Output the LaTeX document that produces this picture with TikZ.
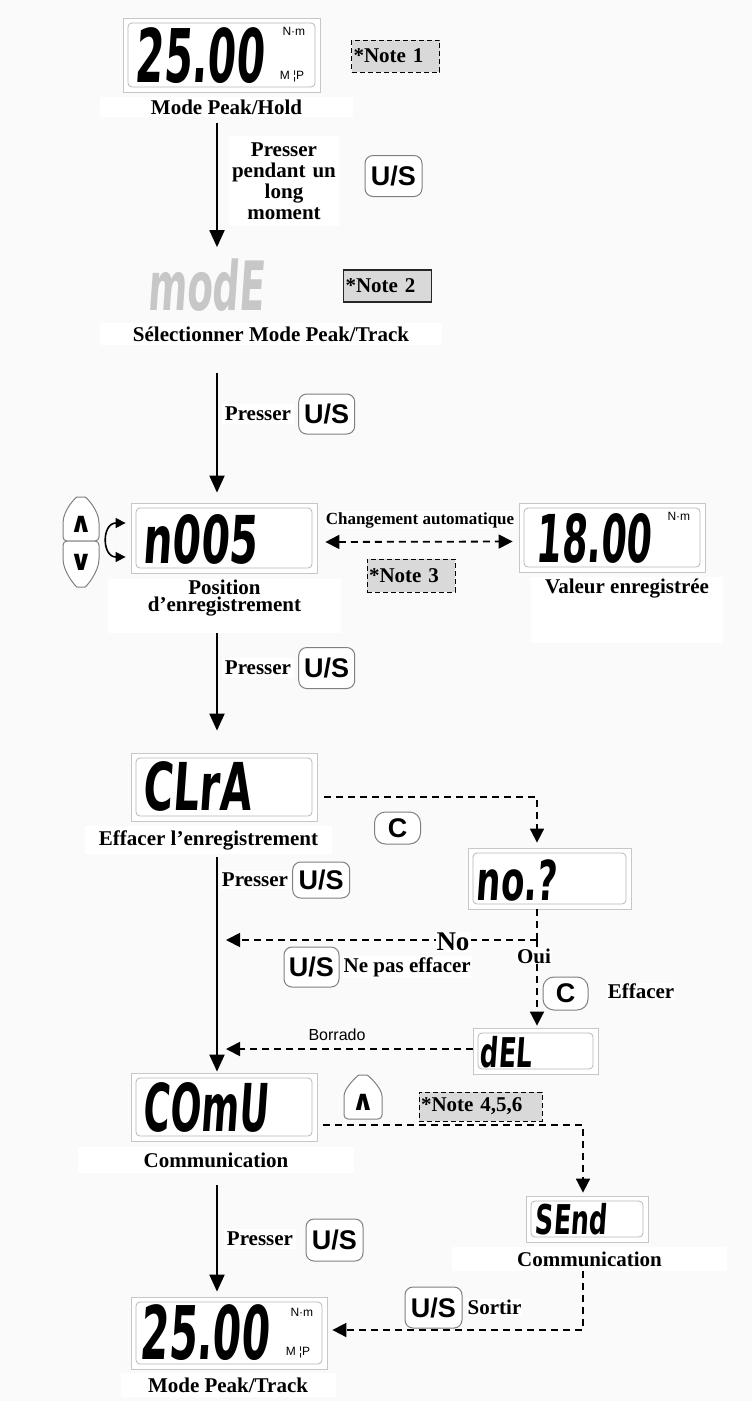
\documentclass[tikz,border=0pt]{standalone}
\usepackage{fontspec}
\setmainfont{Liberation Serif}
\newfontfamily\arialfont{Liberation Sans}
\newfontfamily\symbfont{DejaVu Sans}
\newfontfamily\lcdfont[FakeStretch=0.62,FakeSlant=0.07]{DejaVu Sans Bold}
\newfontfamily\lcdnarrow[FakeStretch=0.55,FakeSlant=0.07]{DejaVu Sans Bold}
\usetikzlibrary{arrows.meta,calc,positioning}
\definecolor{bgcol}{RGB}{250,250,250}
\definecolor{notegray}{RGB}{217,217,217}

\begin{document}
\begin{tikzpicture}[x=1pt, y=-1pt,
    lcd/.style={draw=black!22, fill=white, line width=0.8pt, inner sep=0pt,
      path picture={\draw[black!28, line width=0.8pt, rounded corners=4pt]
        ([shift={(5pt,-5pt)}]path picture bounding box.north west) rectangle
        ([shift={(-5pt,5pt)}]path picture bounding box.south east);}},
    lcdtxt/.style={anchor=base west, inner sep=0pt},
    unit/.style={font=\arialfont\fontsize{12}{12}\selectfont, inner sep=0pt},
    lbl/.style={fill=white, inner sep=1pt, align=center, font=\bfseries\fontsize{21}{18}\selectfont},
    btn/.style={draw=black!50, fill=white, rounded corners=8pt, line width=1pt,
      minimum width=57pt, minimum height=41pt, inner sep=0pt,
      font=\arialfont\bfseries\fontsize{27}{27}\selectfont},
    cbtn/.style={btn, minimum width=46pt, minimum height=32pt, rounded corners=11pt},
    keyline/.style={draw=black!50, fill=white, line width=1pt},
    chevron/.style={font=\symbfont\bfseries\fontsize{28}{28}\selectfont, inner sep=0pt},
    note/.style={draw=black, fill=notegray, line width=1pt, dash pattern=on 5pt off 3pt,
      inner sep=2pt, align=left, font=\bfseries\fontsize{21}{21}\selectfont},
    flow/.style={line width=2pt, -{Triangle[length=17pt,width=15pt]}},
    dflow/.style={line width=1.8pt, dash pattern=on 7pt off 5pt},
    darr/.style={dflow, -{Triangle[length=14pt,width=14pt]}}
  ]
  \fill[bgcol] (0,0) rectangle (752,1401);
  \useasboundingbox (0,0) rectangle (752,1401);
  \coordinate (spine) at (217,0);

  % Peak/Hold
  \node[lcd, minimum width=197pt, minimum height=74pt] (hold) at (221.5,55) {};
  \node[lcdtxt, font=\lcdnarrow\fontsize{74}{74}\selectfont] (holdval) at ([shift={(12pt,10pt)}]hold.south west) {25.00};
  \node[unit, anchor=north east] (holdnm) at ([shift={(-15pt,-9pt)}]hold.north east) {N·m};
  \node[unit, anchor=south east] (holdmp) at ([shift={(-16pt,10pt)}]hold.south east) {M ¦P};
  \node[note, text width=84pt, minimum height=32pt] (note1) at (395.5,56) {*Note 1};
  \node[lbl, minimum width=253pt, minimum height=20pt] (lblhold) at (226.5,107) {Mode Peak/Hold};

  \node[lbl, font=\bfseries\fontsize{21}{21}\selectfont, text width=108pt, minimum height=90pt] (longpress) at (284,181) {Presser\\pendant un\\long\\moment};
  \node[btn] (us1) at (393.5,176) {U/S};

  % mode
  \node[lcdtxt, text=black!22, font=\lcdnarrow\fontsize{68}{68}\selectfont] (modetxt) at (147,310) {modE};
  \node[note, solid, draw=black!85, line width=1.5pt, text width=84pt, minimum height=32pt] (note2) at (387.5,286) {*Note 2};
  \node[lbl, minimum width=342pt, minimum height=22pt] (lblsel) at (271,334) {Sélectionner Mode Peak/Track};
  \draw[flow, shorten <=6pt, shorten >=11pt] (lblhold.south -| spine) -- (modetxt.north -| spine);

  \node[lbl, inner sep=3pt] (press2) at (258,414) {Presser};
  \node[btn, minimum width=56pt, minimum height=40pt, right=4pt of press2] (us2) {U/S};

  % record position
  \node[lcd, minimum width=186pt, minimum height=70pt] (n005) at (224,538) {};
  \node[lcdtxt, font=\lcdfont\fontsize{66}{66}\selectfont] (n005val) at ([shift={(12pt,10pt)}]n005.south west) {n005};
  \draw[flow, shorten <=28pt, shorten >=10pt] (lblsel.south -| spine) -- (n005.north -| spine);

  \draw[keyline, rounded corners=4pt] (63,541) -- (63,527) .. controls (63,510) and (76,497) .. (81,497) .. controls (86,497) and (99,510) .. (99,527) -- (99,541) -- cycle;
  \draw[keyline, rounded corners=4pt] (63,541) -- (63,555) .. controls (63,572) and (76,587) .. (81,587) .. controls (86,587) and (99,572) .. (99,555) -- (99,541) -- cycle;
  \node[chevron] (upkey) at (81,524) {∧};
  \node[chevron] (downkey) at (81,562) {∨};
  \draw[line width=1.6pt, {Triangle[length=10pt,width=10pt]}-{Triangle[length=10pt,width=10pt]}]
    ([shift={(-5pt,15pt)}]n005.west) .. controls +(-24pt,0pt) and +(-24pt,0pt) .. ([shift={(-5pt,-19pt)}]n005.west);

  \node[lbl, font=\bfseries\fontsize{17}{17}\selectfont] (autolbl) at (420,520) {Changement automatique};
  \node[lcd, minimum width=186pt, minimum height=69pt] (rec) at (612,537.5) {};
  \node[lcdtxt, font=\lcdnarrow\fontsize{66}{66}\selectfont] (recval) at ([shift={(17pt,10pt)}]rec.south west) {18.00};
  \node[unit, anchor=north east] (recnm) at ([shift={(-15pt,-9pt)}]rec.north east) {N·m};
  \draw[dflow, {Triangle[length=14pt,width=14pt]}-{Triangle[length=14pt,width=14pt]}, shorten <=8pt, shorten >=6pt]
    ([yshift=-4pt]n005.east) -- ([yshift=-4pt]rec.west);
  \node[note, text width=84pt, minimum height=33pt] (note3) at (411,575.5) {*Note 3};

  \node[lbl, minimum width=233pt, minimum height=54pt] (posbox) at (224.5,606) {};
  \node[lbl, font=\bfseries\fontsize{21}{17}\selectfont, anchor=north] (lblpos) at (posbox.north) {Position\\d’enregistrement};
  \node[lbl, minimum width=192pt, minimum height=66pt] (valbox) at (627,610) {};
  \node[lbl, anchor=north] (lblval) at ([yshift=-1pt]valbox.north) {Valeur enregistrée};

  % clear
  \node[lcd, minimum width=186pt, minimum height=68pt] (clra) at (224,787) {};
  \node[lcdtxt, font=\lcdfont\fontsize{66}{66}\selectfont] (clraval) at ([shift={(12pt,11pt)}]clra.south west) {CLrA};
  \draw[flow, shorten >=22pt] (posbox.south -| spine) -- (clra.north -| spine);
  \node[lbl, inner sep=3pt] (press3) at (258,668) {Presser};
  \node[btn, minimum width=56pt, right=4pt of press3] (us3) {U/S};
  \node[lbl, minimum width=247pt, minimum height=28pt] (lbleff) at (208.5,840) {Effacer l’enregistrement};

  \node[lcd, minimum width=163pt, minimum height=61pt] (nodisp) at (549.5,878.5) {};
  \node[lcdtxt, font=\lcdfont\fontsize{55}{55}\selectfont] (noval) at ([shift={(8pt,9pt)}]nodisp.south west) {no.?};
  \draw[darr, shorten <=7pt, shorten >=5pt] ([yshift=-10pt]clra.east) -| ([xshift=-12.5pt]nodisp.north);
  \node[cbtn] (c1) at (397.5,828) {C};

  \node[lcd, minimum width=186pt, minimum height=68pt] (comu) at (224,1107) {};
  \node[lcdtxt, font=\lcdnarrow\fontsize{66}{66}\selectfont] (comuval) at ([shift={(12pt,10pt)}]comu.south west) {COmU};
  \draw[flow, shorten <=3pt, shorten >=1pt] (lbleff.south -| spine) -- (comu.north -| spine);
  \node[lbl, inner sep=2pt] (press4) at (255,880) {Presser};
  \node[btn, minimum height=36pt, right=2pt of press4] (us4) {U/S};

  \node[lcd, minimum width=125pt, minimum height=46pt] (del) at (535.5,1051) {};
  \node[lcdtxt, font=\lcdfont\fontsize{41}{41}\selectfont] (delval) at ([shift={(7pt,7pt)}]del.south west) {dEL};

  \coordinate (nojoin) at (537,940);
  \draw[dflow] ([xshift=-12.5pt]nodisp.south) -- (nojoin);
  \draw[darr, shorten >=2pt] (nojoin) -- (del.north -| nojoin);
  \draw[darr, shorten >=9pt] (nojoin) -- (nojoin -| spine);
  \node[fill=white, inner sep=1pt, font=\bfseries\fontsize{27}{27}\selectfont] (nolbl) at (453,942) {No};
  \node[lbl] (oui) at (534,956) {Oui};
  \node[btn, minimum width=55pt, minimum height=40pt] (us5) at (311.5,967) {U/S};
  \node[lbl, anchor=west] (keep) at ([xshift=3pt]us5.east) {Ne pas effacer};
  \node[cbtn, minimum width=45pt, minimum height=33pt] (c2) at (565.5,993.5) {C};
  \node[lbl] (efflbl) at (641,991) {Effacer};

  \draw[darr, shorten >=9pt] ([yshift=2pt]del.west) -- ([yshift=2pt]del.west -| spine);
  \node[font=\arialfont\fontsize{16}{16}\selectfont, inner sep=0pt] (borrado) at (337,1035) {Borrado};

  % communication
  \draw[keyline, rounded corners=4pt] (344,1119) -- (344,1100) .. controls (344,1088) and (358,1075) .. (363,1075) .. controls (368,1075) and (382,1088) .. (382,1100) -- (382,1119) -- cycle;
  \node[chevron] (upkey2) at (363,1102) {∧};
  \node[note, text width=119pt, minimum height=29pt] (note456) at (480.5,1106.5) {*Note 4,5,6};
  \node[lbl, minimum width=276pt, minimum height=26pt] (lblcomm) at (216,1160) {Communication};

  \node[lcd, minimum width=122pt, minimum height=46pt] (send) at (587,1219) {};
  \node[lcdtxt, font=\lcdfont\fontsize{41}{41}\selectfont] (sendval) at ([shift={(9pt,8pt)}]send.south west) {SEnd};
  \draw[darr, shorten <=6pt, shorten >=3pt] ([yshift=-18pt]comu.east) -| ([xshift=-4pt]send.north);
  \node[lbl, minimum width=275pt, minimum height=24pt] (lblcomm2) at (589.5,1259) {Communication};

  % Peak/Track
  \node[lcd, minimum width=196pt, minimum height=72pt] (final) at (229,1333) {};
  \node[lcdtxt, font=\lcdnarrow\fontsize{74}{74}\selectfont] (finalval) at ([shift={(9pt,10pt)}]final.south west) {25.00};
  \node[unit, anchor=north east] (finalnm) at ([shift={(-14pt,-11pt)}]final.north east) {N·m};
  \node[unit, anchor=south east] (finalmp) at ([shift={(-17pt,11pt)}]final.south east) {M ¦P};
  \node[lbl, minimum width=215pt, minimum height=24pt] (lbltrack) at (228,1385) {Mode Peak/Track};
  \draw[flow, shorten <=12pt, shorten >=5pt] (lblcomm.south -| spine) -- (final.north -| spine);
  \node[lbl, inner sep=3pt] (press5) at (260,1239) {Presser};
  \node[btn, minimum height=42pt] (us6) at (334.5,1240) {U/S};

  \coordinate (sendx) at ([xshift=-4pt]send.south);
  \draw[darr, shorten >=5pt] (lblcomm2.south -| sendx) |- ([yshift=3pt]final.east);
  \node[btn] (us7) at (433.5,1307.5) {U/S};
  \node[lbl, anchor=west] (sortir) at ([xshift=4pt]us7.east) {Sortir};
\end{tikzpicture}
\end{document}
